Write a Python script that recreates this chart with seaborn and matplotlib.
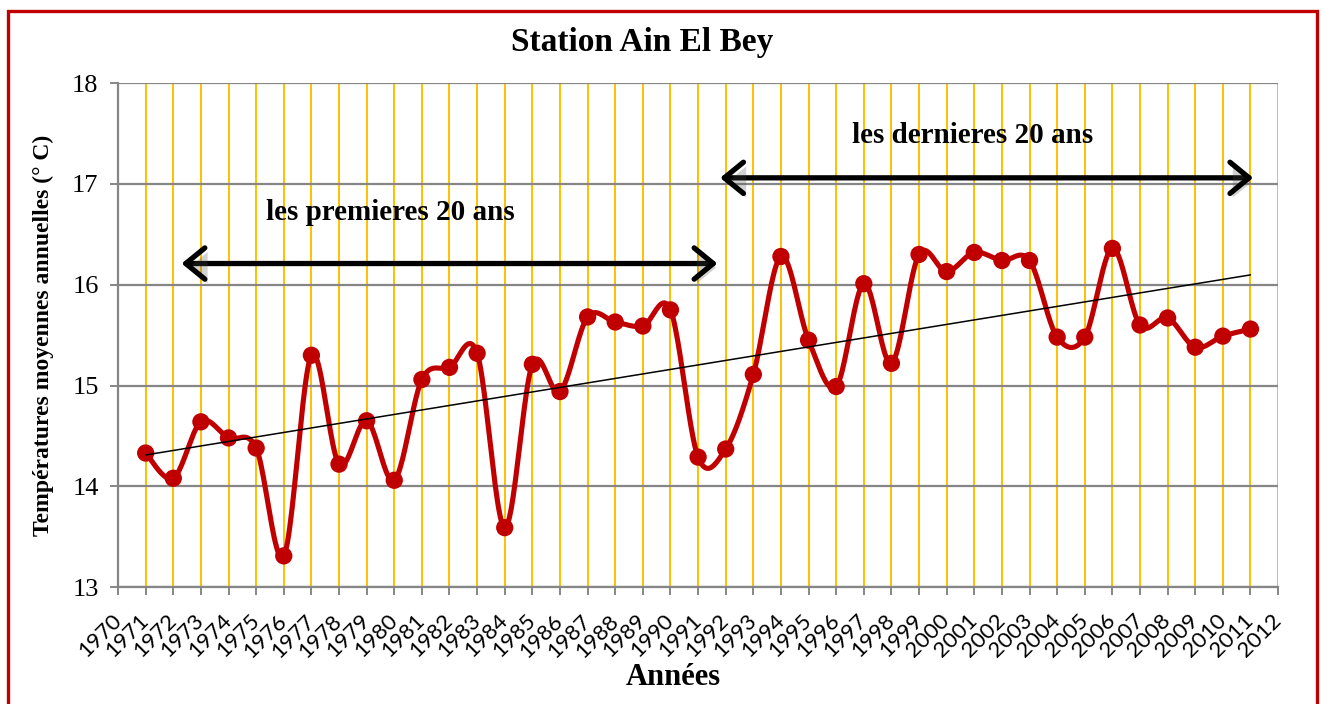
import numpy as np
import matplotlib
matplotlib.use("Agg")
import matplotlib.pyplot as plt
import matplotlib.patheffects as pe
from matplotlib.patches import Rectangle
import seaborn as sns

# données
years = list(range(1971, 2012))
temps = [14.33, 14.08, 14.64, 14.48, 14.38, 13.31, 15.30, 14.22, 14.65, 14.06,
         15.06, 15.18, 15.32, 13.59, 15.21, 14.94, 15.68, 15.63, 15.59, 15.75,
         14.29, 14.37, 15.11, 16.28, 15.45, 14.99, 16.01, 15.22, 16.30, 16.13,
         16.32, 16.24, 16.24, 15.48, 15.48, 16.36, 15.60, 15.67, 15.38, 15.49,
         15.56]
tick_years = list(range(1970, 2013))
y_ticks = [13, 14, 15, 16, 17, 18]

RED = "#C00000"
GREY = "#868686"
ORANGE = "#FFC000"
SERIF = "Liberation Serif"


def smooth_curve(x, y, n=24):
    # courbe lissée type Excel (bezier / catmull-rom)
    x = np.asarray(x, float)
    y = np.asarray(y, float)
    px = np.concatenate([[x[0]], x, [x[-1]]])
    py = np.concatenate([[y[0]], y, [y[-1]]])
    t = np.linspace(0, 1, n)[:, None]
    xs, ys = [], []
    for i in range(1, len(px) - 2):
        p0 = np.array([px[i], py[i]])
        p3 = np.array([px[i + 1], py[i + 1]])
        c1 = p0 + (p3 - np.array([px[i - 1], py[i - 1]])) / 6
        c2 = p3 - (np.array([px[i + 2], py[i + 2]]) - p0) / 6
        pts = ((1 - t) ** 3) * p0 + 3 * ((1 - t) ** 2) * t * c1 + 3 * (1 - t) * t ** 2 * c2 + t ** 3 * p3
        xs.append(pts[:, 0])
        ys.append(pts[:, 1])
    return np.concatenate(xs), np.concatenate(ys)


sns.set_style("white")
plt.rcParams["font.family"] = [SERIF, "DejaVu Serif"]
plt.rcParams["text.color"] = "black"
plt.rcParams["xtick.labelcolor"] = "black"
plt.rcParams["ytick.labelcolor"] = "black"

fig = plt.figure(figsize=(13.22, 7.04), dpi=100)
ax = fig.add_axes([0.0893, 0.166, 0.8775, 0.716])

sx, sy = smooth_curve(years, temps)
sns.lineplot(x=sx, y=sy, sort=False, estimator=None, color=RED, lw=3.7, ax=ax, zorder=4)
sns.scatterplot(x=years, y=temps, color=RED, s=155, edgecolor="none", ax=ax, zorder=5)
sns.regplot(x=np.array(years), y=np.array(temps), scatter=False, ci=None, truncate=True,
            line_kws=dict(color="black", lw=1.1, zorder=6), ax=ax)

ax.set_xlim(1970, 2012)
ax.set_ylim(13, 18)
ax.set_xticks(tick_years)
ax.set_xticklabels([str(y) for y in tick_years], rotation=45, ha="right", va="center",
                   rotation_mode="anchor", fontfamily="Lato", fontsize=16)
ax.set_yticks(y_ticks)
ax.set_yticklabels([str(v) for v in y_ticks], fontsize=19, fontfamily=SERIF)
ax.set_xlabel("")
ax.set_ylabel("")

ax.xaxis.grid(True, color=ORANGE, lw=1.4)
ax.yaxis.grid(True, color=GREY, lw=1.6)
ax.set_axisbelow(True)
for side in ["top", "right"]:
    ax.spines[side].set_visible(False)
for side in ["left", "bottom"]:
    ax.spines[side].set_color(GREY)
    ax.spines[side].set_linewidth(1.6)
ax.tick_params(axis="x", direction="out", length=6, width=1.4, color=GREY, pad=16, bottom=True)
ax.tick_params(axis="y", direction="out", length=6, width=1.4, color=GREY, pad=8, left=True)

# flèches des deux périodes
for x0, x1, yy in [(1972.3, 1991.7, 16.21), (1991.8, 2011.1, 17.06)]:
    ann = ax.annotate("", xy=(x0, yy), xytext=(x1, yy),
                      arrowprops=dict(arrowstyle="<->,head_length=0.55,head_width=0.45",
                                      lw=3.8, color="black", mutation_scale=25,
                                      shrinkA=0, shrinkB=0), zorder=7)
    ann.arrow_patch.set_path_effects([pe.SimplePatchShadow(offset=(2, -3), alpha=0.25), pe.Normal()])

ax.text(1979.85, 16.72, "les premieres 20 ans", ha="center", va="center",
        fontsize=21, fontweight="bold", zorder=8)
ax.text(2000.94, 17.48, "les dernieres 20 ans", ha="center", va="center",
        fontsize=21, fontweight="bold", zorder=8)

fig.text(0.486, 0.94, "Station Ain El Bey", ha="center", va="center",
         fontsize=24, fontweight="bold")
fig.text(0.033, 0.523, "Températures moyennes annuelles (° C)", rotation=90,
         ha="center", va="center", fontsize=17, fontweight="bold")
fig.text(0.509, 0.037, "Années", ha="center", va="center", fontsize=22, fontweight="bold")

fig.add_artist(Rectangle((8 / 1322, -0.02), 1309 / 1322, 0.984 + 0.02, transform=fig.transFigure,
                         fill=False, edgecolor=RED, lw=2.4, clip_on=False))

fig.savefig("out.png", dpi=100)
